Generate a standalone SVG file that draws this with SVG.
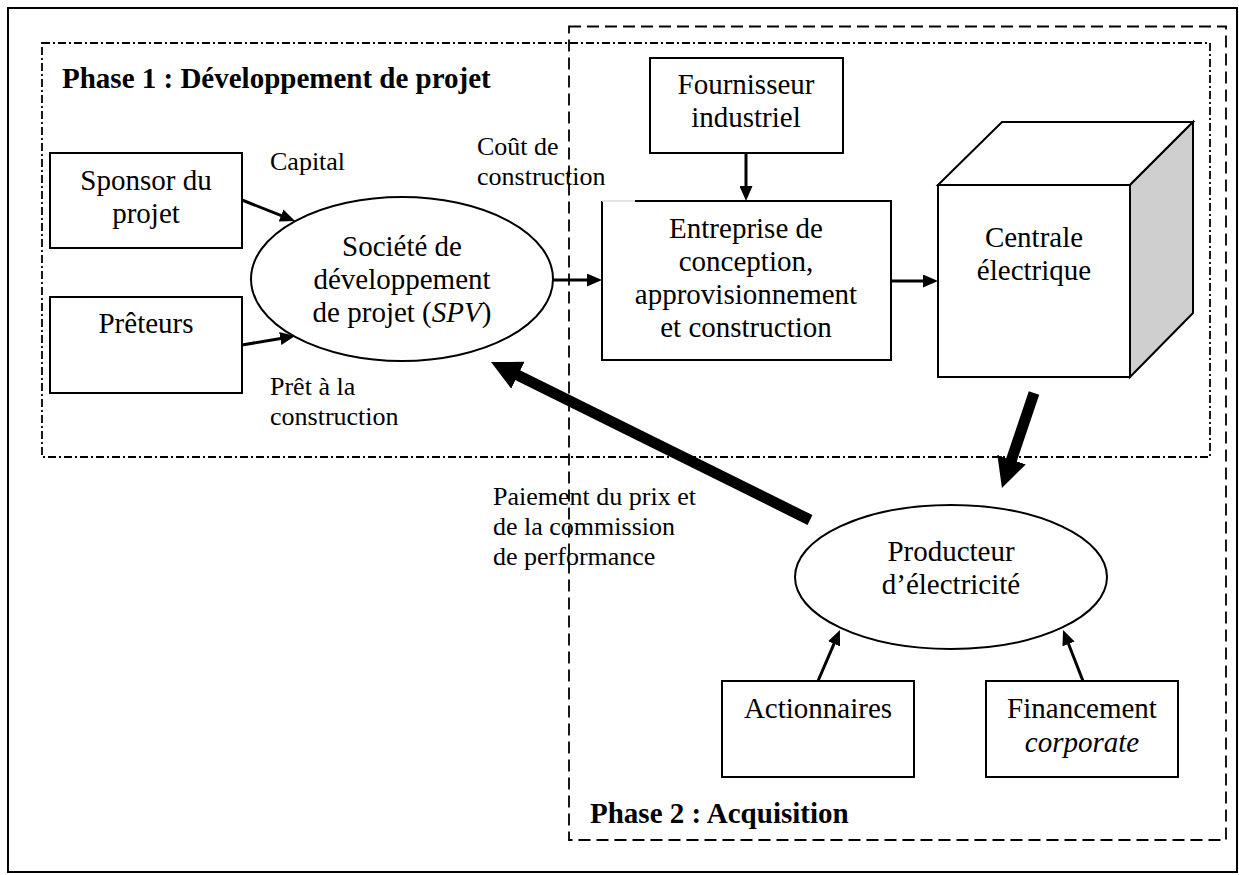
<svg xmlns="http://www.w3.org/2000/svg" width="1239" height="875" viewBox="0 0 1239 875">
<style>
text{font-family:"Liberation Serif","Times New Roman",serif;fill:#000}
.n{font-size:29px;text-anchor:middle}
.l{font-size:26px}
.t{font-size:29px;font-weight:bold}
.box{fill:#fff;stroke:#000;stroke-width:2}
.c{stroke:#000;stroke-width:3;fill:none}
.thick{stroke:#000;stroke-width:11;fill:none}
</style>
<defs>
<marker id="a" markerUnits="userSpaceOnUse" markerWidth="15" markerHeight="13" refX="5" refY="6.5" orient="auto" viewBox="0 0 15 13">
<path d="M0,0 L15,6.5 L0,13 z" fill="#000"/>
</marker>
<marker id="b" markerUnits="userSpaceOnUse" markerWidth="30" markerHeight="30" refX="2" refY="15" orient="auto" viewBox="0 0 30 30">
<path d="M0,0 L30,15 L0,30 z" fill="#000"/>
</marker>
</defs>
<rect x="0" y="0" width="1239" height="875" fill="#fff"/>
<rect id="frame" x="8" y="8" width="1229" height="864" fill="none" stroke="#000" stroke-width="2"/>
<g id="phase1">
<rect x="42" y="43" width="1168" height="414" fill="none" stroke="#000" stroke-width="1.8" stroke-dasharray="8 3 2 3"/>
<text class="t" x="62" y="88">Phase 1 : Développement de projet</text>
</g>
<g id="phase2">
<rect x="569" y="26.5" width="657" height="813.5" fill="none" stroke="#000" stroke-width="1.8" stroke-dasharray="12 6"/>
<text class="t" x="590" y="823">Phase 2 : Acquisition</text>
</g>
<g id="sponsor">
<rect class="box" x="50" y="153" width="192" height="95"/>
<text class="n" x="146" y="190">Sponsor du</text>
<text class="n" x="146" y="223">projet</text>
</g>
<g id="preteurs">
<rect class="box" x="50" y="297" width="192" height="96"/>
<text class="n" x="146" y="333">Prêteurs</text>
</g>
<g id="spv">
<ellipse class="box" cx="402" cy="279" rx="151" ry="82"/>
<text class="n" x="402" y="256">Société de</text>
<text class="n" x="402" y="289">développement</text>
<text class="n" x="402" y="322">de projet (<tspan font-style="italic">SPV</tspan>)</text>
</g>
<g id="fournisseur">
<rect class="box" x="650" y="58" width="193" height="95"/>
<text class="n" x="746" y="94">Fournisseur</text>
<text class="n" x="746" y="127">industriel</text>
</g>
<g id="entreprise">
<rect x="602" y="201" width="289" height="159" fill="#fff" stroke="none"/>
<path d="M635,201 H891 V360 H602 V201" fill="none" stroke="#000" stroke-width="2"/>
<path d="M602,201 H635" stroke="#ddd" stroke-width="1.5"/>
<text class="n" x="746" y="238">Entreprise de</text>
<text class="n" x="746" y="271">conception,</text>
<text class="n" x="746" y="304">approvisionnement</text>
<text class="n" x="746" y="337">et construction</text>
</g>
<g id="centrale">
<path d="M938,185 L1002,122 L1193,122 L1130,185 z" fill="#fff" stroke="#000" stroke-width="2"/>
<path d="M1130,185 L1193,122 L1193,313 L1130,377 z" fill="#cfcfcf" stroke="#000" stroke-width="2"/>
<rect class="box" x="938" y="185" width="192" height="192"/>
<text class="n" x="1034" y="247">Centrale</text>
<text class="n" x="1034" y="280">électrique</text>
</g>
<g id="producteur">
<ellipse class="box" cx="951" cy="577" rx="156" ry="72"/>
<text class="n" x="951" y="561">Producteur</text>
<text class="n" x="951" y="594">d’électricité</text>
</g>
<g id="actionnaires">
<rect class="box" x="722" y="681" width="192" height="96"/>
<text class="n" x="818" y="718">Actionnaires</text>
</g>
<g id="financement">
<rect class="box" x="986" y="681" width="192" height="96"/>
<text class="n" x="1082" y="718">Financement</text>
<text class="n" x="1082" y="752" font-style="italic">corporate</text>
</g>
<g id="connectors">
<line class="c" x1="242" y1="200" x2="285.7" y2="217.3" marker-end="url(#a)"/>
<line class="c" x1="242" y1="345" x2="285.2" y2="337.7" marker-end="url(#a)"/>
<line class="c" x1="553" y1="280" x2="592" y2="280" marker-end="url(#a)"/>
<line class="c" x1="746" y1="153" x2="746" y2="191" marker-end="url(#a)"/>
<line class="c" x1="891" y1="281" x2="928" y2="281" marker-end="url(#a)"/>
<line class="c" x1="818" y1="681" x2="836" y2="639.2" marker-end="url(#a)"/>
<line class="c" x1="1083" y1="681" x2="1066.7" y2="639.3" marker-end="url(#a)"/>
<line class="thick" x1="810" y1="520" x2="516.1" y2="374.4" marker-end="url(#b)"/>
<line class="thick" x1="1034" y1="393" x2="1010.9" y2="461.5" marker-end="url(#b)"/>
<text class="l" x="270" y="170">Capital</text>
<text class="l" x="477" y="155">Coût de</text>
<text class="l" x="477" y="185">construction</text>
<text class="l" x="270" y="395">Prêt à la</text>
<text class="l" x="270" y="425">construction</text>
<text class="l" x="493" y="505">Paiement du prix et</text>
<text class="l" x="493" y="535">de la commission</text>
<text class="l" x="493" y="565">de performance</text>
</g>
</svg>
